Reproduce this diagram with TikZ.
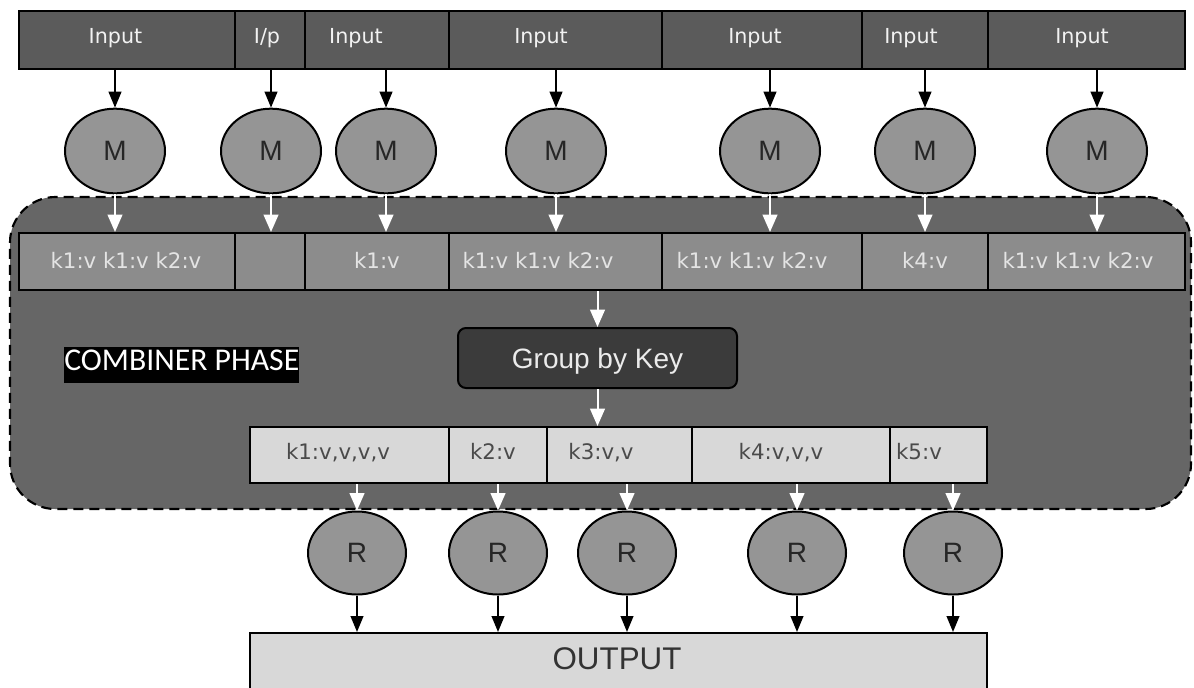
\documentclass[tikz,border=0pt]{standalone}
\usepackage{fontspec}
\setmainfont{DejaVu Sans}
\newfontfamily\arialf{Liberation Sans}
\newfontfamily\calf{Carlito}
\usetikzlibrary{shapes.geometric,arrows.meta}
\definecolor{topfill}{HTML}{5B5B5B}
\definecolor{boxfill}{HTML}{666666}
\definecolor{midfill}{HTML}{8C8C8C}
\definecolor{circfill}{HTML}{959595}
\definecolor{gbkfill}{HTML}{3B3B3B}
\definecolor{lightfill}{HTML}{D8D8D8}
\definecolor{lighttext}{HTML}{E4E4E4}
\definecolor{darktext}{HTML}{4A4A4A}
\newcommand\cellat[6]{\node[#1, minimum width={(#4-#3)*0.75pt}, minimum height={(#6-#5)*0.75pt}] (#2) at ({(#3+#4)/2},{(#5+#6)/2}) {};}
\begin{document}
\begin{tikzpicture}[x=0.75pt,y=-0.75pt,
  cellbase/.style={rectangle, draw=black, line width=1.5pt, inner sep=0pt},
  topcell/.style={cellbase, fill=topfill},
  midcell/.style={cellbase, fill=midfill},
  redcell/.style={cellbase, fill=lightfill},
  toptext/.style={text=white!95!black, font=\fontsize{15.5}{18}\selectfont, anchor=base, inner sep=0pt},
  midtext/.style={text=lighttext, font=\fontsize{16}{19}\selectfont, anchor=base, inner sep=0pt},
  redtext/.style={text=darktext, font=\fontsize{16}{19}\selectfont, anchor=base, inner sep=0pt},
  mapper/.style={ellipse, draw=black, line width=1.5pt, fill=circfill, minimum width=75pt, minimum height=63.5pt, inner sep=0pt, font=\arialf\fontsize{21}{24}\selectfont, text=black!85},
  reducer/.style={mapper, minimum width=73.5pt, minimum height=62.25pt},
  blackarrow/.style={draw=black, line width=1.5pt, -{Triangle[length=12pt,width=9.5pt]}},
  whitearrow/.style={draw=white, line width=1.5pt, -{Triangle[length=13pt,width=11pt,fill=white]}},
]
\useasboundingbox (0,0) rectangle (1194,687);
\fill[white] (0,0) rectangle (1194,687);

% combiner container
\node[draw=black, line width=1.6pt, dash pattern=on 7.5pt off 4.5pt, fill=boxfill,
      rounded corners=34pt, minimum width={1181*0.75pt}, minimum height={312*0.75pt}, inner sep=0pt]
      (comb) at (600.5,353) {};

% top input row
\cellat{topcell}{t1}{19}{235}{11}{69}
\cellat{topcell}{t2}{235}{305}{11}{69}
\cellat{topcell}{t3}{305}{449}{11}{69}
\cellat{topcell}{t4}{449}{662}{11}{69}
\cellat{topcell}{t5}{662}{862}{11}{69}
\cellat{topcell}{t6}{862}{988}{11}{69}
\cellat{topcell}{t7}{988}{1185}{11}{69}
\node[toptext] (t1l) at (115.5,43) {Input};
\node[toptext] (t2l) at (267,43) {I/p};
\node[toptext] (t3l) at (356,43) {Input};
\node[toptext] (t4l) at (541,43) {Input};
\node[toptext] (t5l) at (755,43) {Input};
\node[toptext] (t6l) at (911,43) {Input};
\node[toptext] (t7l) at (1082,43) {Input};

% mappers
\node[mapper] (m1) at (115,151) {M};
\node[mapper] (m2) at (271,151) {M};
\node[mapper] (m3) at (386,151) {M};
\node[mapper] (m4) at (556,151) {M};
\node[mapper] (m5) at (770,151) {M};
\node[mapper] (m6) at (925,151) {M};
\node[mapper] (m7) at (1097,151) {M};

% combiner row
\cellat{midcell}{c1}{19}{235}{233}{290}
\cellat{midcell}{c2}{235}{305}{233}{290}
\cellat{midcell}{c3}{305}{449}{233}{290}
\cellat{midcell}{c4}{449}{662}{233}{290}
\cellat{midcell}{c5}{662}{862}{233}{290}
\cellat{midcell}{c6}{862}{988}{233}{290}
\cellat{midcell}{c7}{988}{1185}{233}{290}
\node[midtext] (c1l) at (126,268) {k1:v k1:v k2:v};
\node[midtext] (c3l) at (377,268) {k1:v};
\node[midtext] (c4l) at (538,268) {k1:v k1:v k2:v};
\node[midtext] (c5l) at (752,268) {k1:v k1:v k2:v};
\node[midtext] (c6l) at (925,268) {k4:v};
\node[midtext] (c7l) at (1078,268) {k1:v k1:v k2:v};

% combiner phase label
\node[fill=black, text=white, font=\calf\fontsize{23.8}{28}\selectfont, inner sep=0pt,
      text height=17.25pt, text depth=9.75pt, anchor=base west] (cp) at (64,370) {COMBINER PHASE};

% group by key
\node[draw=black, line width=1.5pt, fill=gbkfill, rounded corners=6pt, minimum width={279*0.75pt},
      minimum height={60*0.75pt}, inner sep=0pt, text=white!92!black, text depth=0pt,
      font=\arialf\fontsize{21}{24}\selectfont] (gbk) at (597.5,358) {Group by Key};

% reduce input row
\cellat{redcell}{k1}{250}{449}{427}{483}
\cellat{redcell}{k2}{449}{547}{427}{483}
\cellat{redcell}{k3}{547}{692}{427}{483}
\cellat{redcell}{k4}{692}{890}{427}{483}
\cellat{redcell}{k5}{890}{987}{427}{483}
\node[redtext] (k1l) at (338,459) {k1:v,v,v,v};
\node[redtext] (k2l) at (493,459) {k2:v};
\node[redtext] (k3l) at (601,459) {k3:v,v};
\node[redtext] (k4l) at (781,459) {k4:v,v,v};
\node[redtext] (k5l) at (919,459) {k5:v};

% reducers
\node[reducer] (rd1) at (357,553) {R};
\node[reducer] (rd2) at (498,553) {R};
\node[reducer] (rd3) at (627,553) {R};
\node[reducer] (rd4) at (797,553) {R};
\node[reducer] (rd5) at (953,553) {R};

% output
\cellat{redcell}{out}{250}{987}{633}{705}
\node[text=black!80, font=\arialf\fontsize{23.5}{27}\selectfont, inner sep=0pt] (outl) at (617,659) {OUTPUT};

% arrows
\foreach \i in {1,...,7} {
  \draw[blackarrow] (m\i |- t\i.south) -- (m\i.north);
  \draw[whitearrow] (m\i.south) -- (m\i |- c\i.north);
}
\draw[whitearrow] (gbk |- c4.south) -- (gbk.north);
\draw[whitearrow] (gbk.south) -- (gbk |- k3.north);
\foreach \i in {1,...,5} {
  \draw[whitearrow] (rd\i |- k\i.south) -- (rd\i.north);
  \draw[blackarrow] (rd\i.south) -- (rd\i |- out.north);
}
\end{tikzpicture}
\end{document}
